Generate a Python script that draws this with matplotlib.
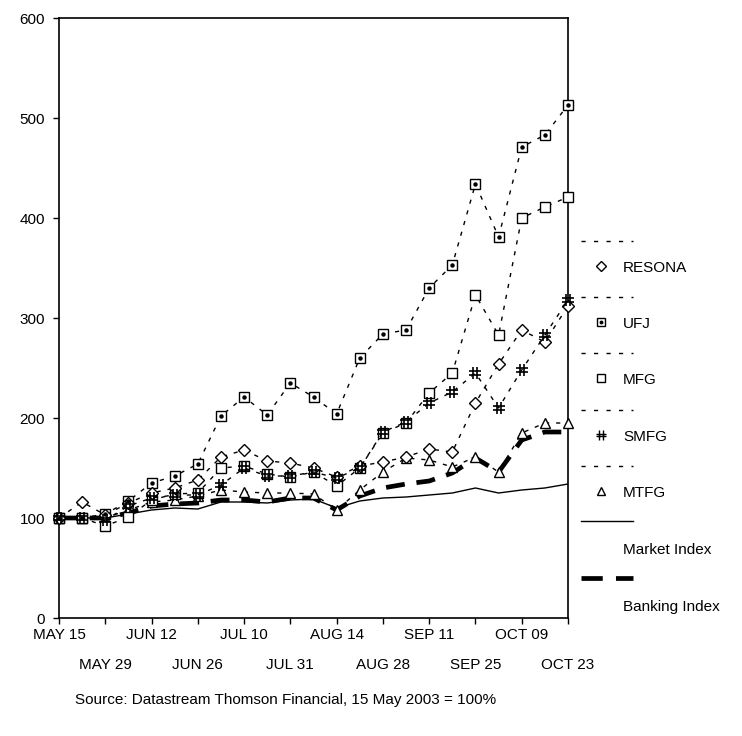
import numpy as np
import matplotlib
matplotlib.use("Agg")
import matplotlib.pyplot as plt
from matplotlib.lines import Line2D
from matplotlib.path import Path

plt.rcParams['font.family'] = ['Liberation Sans', 'DejaVu Sans']

# weekly closes, 15 May 2003 = 100
weeks = np.arange(23)
tick_labels = ["MAY 15", "MAY 29", "JUN 12", "JUN 26", "JUL 10", "JUL 31",
               "AUG 14", "AUG 28", "SEP 11", "SEP 25", "OCT 09", "OCT 23"]

resona = [100, 116, 103, 115, 125, 130, 138, 161, 168, 157, 155, 150,
          141, 152, 156, 161, 169, 166, 215, 254, 288, 276, 312]
ufj = [100, 100, 104, 117, 135, 142, 154, 202, 221, 203, 235, 221,
       204, 260, 284, 288, 330, 353, 434, 381, 471, 483, 513]
mfg = [100, 100, 92, 101, 118, 124, 125, 150, 152, 144, 141, 146,
       132, 150, 185, 195, 225, 245, 323, 283, 400, 411, 421]
smfg = [100, 100, 98, 112, 120, 123, 123, 133, 150, 142, 142, 146,
        140, 150, 186, 196, 215, 226, 245, 210, 248, 283, 318]
mtfg = [100, 100, 100, 108, 116, 118, 122, 128, 126, 125, 125, 124,
        108, 128, 146, 160, 158, 151, 161, 146, 185, 195, 195]
market = [100, 100, 100, 104, 108, 110, 109, 116, 116, 115, 118, 119,
          110, 117, 120, 121, 123, 125, 130, 125, 128, 130, 134]
banking = [100, 100, 100, 105, 112, 114, 115, 118, 118, 116, 120, 120,
           108, 122, 130, 134, 137, 145, 160, 146, 178, 186, 186]

# thin "#" shaped marker for SMFG
hash_mark = Path([(-0.35, -1), (-0.35, 1), (0.35, -1), (0.35, 1),
                  (-1, 0.3), (1, 0.3), (-1, -0.3), (1, -0.3)],
                 [Path.MOVETO, Path.LINETO] * 4)

FS = 11
W, H = 742, 736
fig = plt.figure(figsize=(W / 100, H / 100), dpi=100)
ax = fig.add_axes([59 / W, 1 - 618 / H, 509 / W, 600 / H])

dash = (0, (3, 5))
mk = dict(color='black', lw=1.0, mfc='white', mec='black', mew=1.0, clip_on=False)

ax.plot(weeks, market, color='black', lw=1.0, zorder=2)
ax.plot(weeks, banking, color='black', lw=3.4, linestyle=(0, (4, 2.5)), zorder=2,
        clip_on=False)
ax.plot(weeks, mtfg, linestyle=dash, marker='^', ms=7, zorder=3, **mk)
ax.plot(weeks, mfg, linestyle=dash, marker='s', ms=7, zorder=3, **mk)
ax.plot(weeks, smfg, linestyle=dash, marker=hash_mark, ms=8, color='black', lw=1.0,
        mew=1.2, zorder=4, clip_on=False)
ax.plot(weeks, ufj, linestyle=dash, marker='s', ms=7, zorder=3, **mk)
ax.plot(weeks, ufj, linestyle='none', marker='o', ms=2.2, color='black', zorder=4,
        clip_on=False)
ax.plot(weeks, resona, linestyle=dash, marker='D', ms=6, zorder=3, **mk)

ax.set_xlim(0, 22)
ax.set_ylim(0, 600)
ax.set_yticks(range(0, 601, 100))
ax.set_xticks(weeks[::4])
ax.set_xticklabels(tick_labels[::2])
ax.set_xticks(weeks[2::4], minor=True)
ax.set_xticklabels(tick_labels[1::2], minor=True)
ax.tick_params(axis='both', which='both', direction='out', length=4, width=1,
               labelsize=FS, colors='black')
ax.tick_params(axis='x', which='major', pad=3)
ax.tick_params(axis='x', which='minor', pad=25)
ax.tick_params(axis='y', pad=6)
for s in ax.spines.values():
    s.set_linewidth(1.2)


def fx(px):
    return px / W


def fy(py):
    return 1 - py / H


# legend to the right of the plot
entries = [("RESONA", 'D', 5), ("UFJ", 's', 5.5), ("MFG", 's', 5.5),
           ("SMFG", hash_mark, 6.5), ("MTFG", '^', 5.5)]
y0 = 241
for i, (name, m, ms) in enumerate(entries):
    yl = y0 + i * 56.2
    fig.add_artist(Line2D([fx(581), fx(633)], [fy(yl), fy(yl)], color='black',
                          lw=1.0, linestyle=(0, (3, 6)), transform=fig.transFigure))
    fig.add_artist(Line2D([fx(601)], [fy(yl + 25)], marker=m, ms=ms, mfc='white',
                          mec='black', color='black', mew=1.0, transform=fig.transFigure))
    if name == "UFJ":
        fig.add_artist(Line2D([fx(601)], [fy(yl + 25)], marker='o', ms=1.8,
                              color='black', transform=fig.transFigure))
    fig.text(fx(623), fy(yl + 27), name, fontsize=FS, va='center', ha='left')

fig.add_artist(Line2D([fx(581), fx(633)], [fy(521), fy(521)], color='black',
                      lw=1.0, transform=fig.transFigure))
fig.text(fx(623), fy(550), "Market Index", fontsize=FS, va='center', ha='left')
fig.add_artist(Line2D([fx(581), fx(633)], [fy(578), fy(578)], color='black',
                      lw=3.4, linestyle=(0, (4.5, 2.8)), transform=fig.transFigure))
fig.text(fx(623), fy(607), "Banking Index", fontsize=FS, va='center', ha='left')

fig.text(fx(75), fy(700), "Source: Datastream Thomson Financial, 15 May 2003 = 100%",
         fontsize=FS, va='center', ha='left')

fig.savefig("out.png", dpi=100)
